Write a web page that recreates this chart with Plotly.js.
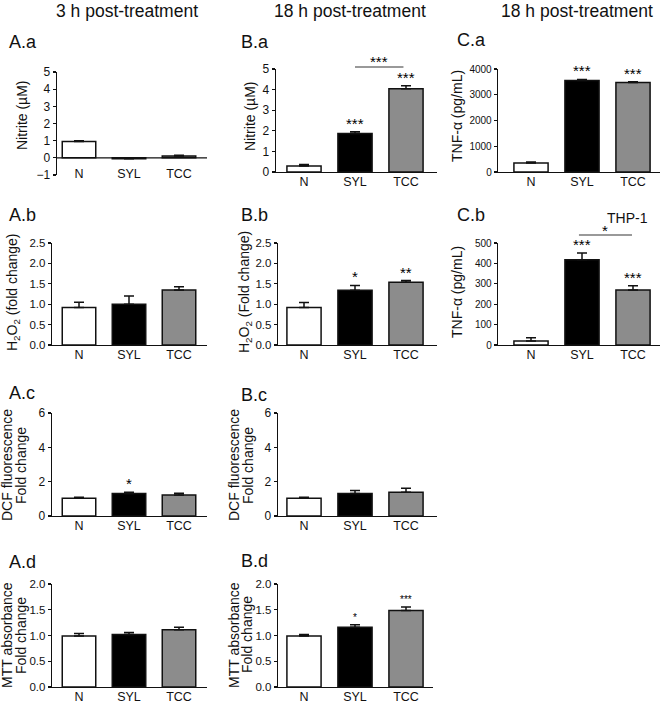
<!DOCTYPE html>
<html><head><meta charset="utf-8">
<script src="https://cdn.plot.ly/plotly-3.0.1.min.js"></script>
<style>html,body{margin:0;padding:0;background:#fff}#chart{width:660px;height:703px}</style>
</head><body><div id="chart"></div>
<script>
// ---------- DATA ----------
const categories = ['N', 'SYL', 'TCC'];
const columnHeaders = ['3 h post-treatment', '18 h post-treatment', '18 h post-treatment'];

// A.a  Nitrite, 3 h
const nitrite3hMean = [0.95, -0.05, 0.10];
const nitrite3hErr  = [0.05, 0.03, 0.05];
const nitrite3hStars = ['', '', ''];
// B.a  Nitrite, 18 h
const nitrite18hMean = [0.29, 1.87, 4.04];
const nitrite18hErr  = [0.08, 0.08, 0.15];
const nitrite18hStars = ['', '***', '***'];
// C.a  TNF-alpha, 18 h
const tnf18hMean = [350, 3555, 3480];
const tnf18hErr  = [40, 40, 25];
const tnf18hStars = ['', '***', '***'];
// A.b  H2O2, 3 h
const h2o23hMean = [0.92, 1.00, 1.35];
const h2o23hErr  = [0.13, 0.20, 0.08];
const h2o23hStars = ['', '', ''];
// B.b  H2O2, 18 h
const h2o218hMean = [0.92, 1.34, 1.54];
const h2o218hErr  = [0.12, 0.12, 0.04];
const h2o218hStars = ['', '*', '**'];
// C.b  TNF-alpha, THP-1
const tnfThp1Mean = [20, 418, 270];
const tnfThp1Err  = [16, 33, 20];
const tnfThp1Stars = ['', '***', '***'];
// A.c  DCF fluorescence, 3 h
const dcf3hMean = [1.03, 1.31, 1.23];
const dcf3hErr  = [0.06, 0.07, 0.10];
const dcf3hStars = ['', '*', ''];
// B.c  DCF fluorescence, 18 h
const dcf18hMean = [1.03, 1.31, 1.38];
const dcf18hErr  = [0.06, 0.17, 0.24];
const dcf18hStars = ['', '', ''];
// A.d  MTT absorbance, 3 h
const mtt3hMean = [0.99, 1.02, 1.11];
const mtt3hErr  = [0.05, 0.04, 0.05];
const mtt3hStars = ['', '', ''];
// B.d  MTT absorbance, 18 h
const mtt18hMean = [0.99, 1.16, 1.485];
const mtt18hErr  = [0.03, 0.05, 0.07];
const mtt18hStars = ['', '*', '***'];

// ---------- STYLE / LAYOUT ----------
const barColors = ['#ffffff', '#000000', '#8c8c8c'];
const W = 660, H = 703;
const FONT = 'Arial, "Liberation Sans", Helvetica, sans-serif';
const INK = '#111111';
const px = x => x / W;
const py = y => 1 - y / H;

const panels = [
  {label:'A.a', mean:nitrite3hMean, err:nitrite3hErr, stars:nitrite3hStars, title:['Nitrite (µM)'], yr:[-1,5], dtick:1, fmt:'', box:[57,207,72,175], c0:79, sp:50, lab:[7,42], zeroAxis:true, tfs:12, tx:[22], ty:115},
  {label:'B.a', mean:nitrite18hMean, err:nitrite18hErr, stars:nitrite18hStars, title:['Nitrite (µM)'], yr:[0,5], dtick:1, fmt:'', box:[276,437,69,172], c0:304, sp:51, lab:[239,42], tfs:12, tx:[250], ty:116},
  {label:'C.a', mean:tnf18hMean, err:tnf18hErr, stars:tnf18hStars, title:['TNF-α (pg/mL)'], yr:[0,4000], dtick:1000, fmt:'', box:[498,660,69,172], c0:531, sp:51, lab:[455,40], tfs:10, tx:[457], ty:116},
  {label:'A.b', mean:h2o23hMean, err:h2o23hErr, stars:h2o23hStars, title:['H<sub>2</sub>O<sub>2</sub> (fold change)'], yr:[0,2.5], dtick:0.5, fmt:'.1f', box:[52,207,243,345], c0:79, sp:50, lab:[7,215], tfs:11.5, tx:[13], ty:292},
  {label:'B.b', mean:h2o218hMean, err:h2o218hErr, stars:h2o218hStars, title:['H<sub>2</sub>O<sub>2</sub> (Fold change)'], yr:[0,2.5], dtick:0.5, fmt:'.1f', box:[278,437,243,345], c0:304, sp:51, lab:[239,215], tfs:11.5, tx:[245], ty:292},
  {label:'C.b', mean:tnfThp1Mean, err:tnfThp1Err, stars:tnfThp1Stars, title:['TNF-α (pg/mL)'], yr:[0,500], dtick:100, fmt:'', box:[498,660,243,345], c0:531, sp:51, lab:[455,215], tfs:10, tx:[457], ty:292},
  {label:'A.c', mean:dcf3hMean, err:dcf3hErr, stars:dcf3hStars, title:['DCF fluorescence', 'Fold change'], yr:[0,6], dtick:2, fmt:'', box:[52,207,413,516], c0:79, sp:50, lab:[7,393], tfs:12, tx:[7,21], ty:465},
  {label:'B.c', mean:dcf18hMean, err:dcf18hErr, stars:dcf18hStars, title:['DCF fluorescence', 'Fold change'], yr:[0,6], dtick:2, fmt:'', box:[278,437,413,516], c0:304, sp:51, lab:[239,395], tfs:12, tx:[234,248], ty:465},
  {label:'A.d', mean:mtt3hMean, err:mtt3hErr, stars:mtt3hStars, title:['MTT absorbance', 'Fold change'], yr:[0,2], dtick:0.5, fmt:'.1f', box:[52,207,584,687], c0:79, sp:50, lab:[7,562], tfs:11.5, tx:[7,21], ty:635},
  {label:'B.d', mean:mtt18hMean, err:mtt18hErr, stars:mtt18hStars, title:['MTT absorbance', 'Fold change'], yr:[0,2], dtick:0.5, fmt:'.1f', box:[278,433,584,687], c0:304, sp:51, lab:[239,561], tfs:11.5, tx:[234,247], ty:635, starSize:10}
];

const data = [];
const layout = {
  width: W, height: H,
  margin: {l:0, r:0, t:0, b:0},
  paper_bgcolor: '#ffffff', plot_bgcolor: '#ffffff',
  showlegend: false,
  font: {family: FONT, color: INK},
  annotations: [], shapes: []
};

panels.forEach((p, i) => {
  const n = i + 1;
  const xa = n === 1 ? 'xaxis' : 'xaxis' + n;
  const ya = n === 1 ? 'yaxis' : 'yaxis' + n;
  const xr = n === 1 ? 'x' : 'x' + n;
  const yr = n === 1 ? 'y' : 'y' + n;
  const [L, R, T, B] = p.box;

  data.push({
    type: 'bar', x: categories, y: p.mean,
    xaxis: xr, yaxis: yr, width: 0.67,
    marker: {color: barColors, line: {color: INK, width: 1.5}},
    error_y: {type: 'data', symmetric: false, array: p.err, arrayminus: p.err.map(() => 0),
              color: INK, thickness: 1.5, width: 5},
    hoverinfo: 'x+y'
  });

  layout[xa] = {
    domain: [px(L), px(R)], anchor: p.zeroAxis ? 'free' : yr,
    type: 'category',
    range: [(L - p.c0) / p.sp, (R - p.c0) / p.sp],
    showline: !p.zeroAxis, linecolor: INK, linewidth: 1.3,
    ticks: '', ticklabelstandoff: -2,
    showgrid: false, zeroline: false, fixedrange: true,
    tickfont: {family: FONT, size: 12.5, color: INK}
  };
  if (p.zeroAxis) layout[xa].position = py(166);

  layout[ya] = {
    domain: [py(B), py(T)], anchor: xr,
    range: p.yr, dtick: p.dtick, tick0: 0, tickformat: p.fmt,
    showline: true, linecolor: INK, linewidth: 1.3,
    ticks: 'outside', ticklen: 3, tickcolor: INK, tickwidth: 1.2,
    showgrid: false, zeroline: false, fixedrange: true,
    tickfont: {family: FONT, size: p.tfs, color: INK}
  };

  if (p.zeroAxis) {
    layout.shapes.push({type: 'line', xref: xr + ' domain', yref: yr,
      x0: 0, x1: 1, y0: 0, y1: 0, line: {color: INK, width: 1.3}});
  }

  // y-axis title (rotated), one annotation per line for tight line spacing
  p.title.forEach((t, j) => {
    layout.annotations.push({text: t, xref: 'paper', yref: 'paper',
      x: px(p.tx[j]), y: py(p.ty), xanchor: 'center', yanchor: 'middle',
      textangle: -90, showarrow: false,
      font: {family: FONT, size: 14, color: INK}});
  });

  // panel label
  layout.annotations.push({text: p.label, xref: 'paper', yref: 'paper',
    x: px(p.lab[0]), y: py(p.lab[1]), xanchor: 'left', yanchor: 'middle',
    showarrow: false, font: {family: FONT, size: 18, color: INK}});

  // significance stars above bars
  p.stars.forEach((s, k) => {
    if (!s) return;
    layout.annotations.push({text: s, xref: xr, yref: yr,
      x: categories[k], y: p.mean[k] + p.err[k], yanchor: 'bottom', yshift: p.starSize ? 0 : -2,
      showarrow: false, font: {family: FONT, size: p.starSize || 15, color: '#000000'}});
  });
});

// column headers
[127, 350, 577].forEach((cx, k) => {
  layout.annotations.push({text: columnHeaders[k], xref: 'paper', yref: 'paper',
    x: px(cx), y: py(11), xanchor: 'center', yanchor: 'middle',
    showarrow: false, font: {family: FONT, size: 17.5, color: INK}});
});

// comparison bracket B.a (SYL vs TCC)
layout.shapes.push({type: 'line', xref: 'x2', yref: 'y2 domain',
  x0: 1, x1: 1.95, y0: 1.02, y1: 1.02, line: {color: '#777', width: 1.5}});
layout.annotations.push({text: '***', xref: 'x2', yref: 'y2 domain', x: 1.47, y: 1.075,
  yanchor: 'middle', showarrow: false, font: {family: FONT, size: 15, color: '#000000'}});

// comparison bracket C.b (SYL vs TCC)
layout.shapes.push({type: 'line', xref: 'x6', yref: 'y6 domain',
  x0: 0.94, x1: 1.98, y0: 1.078, y1: 1.078, line: {color: '#777', width: 1.5}});
layout.annotations.push({text: '*', xref: 'x6', yref: 'y6 domain', x: 1.45, y: 1.12,
  yanchor: 'middle', showarrow: false, font: {family: FONT, size: 15, color: '#000000'}});
layout.annotations.push({text: 'THP-1', xref: 'paper', yref: 'paper', x: px(627), y: py(218),
  xanchor: 'center', yanchor: 'middle', showarrow: false, font: {family: FONT, size: 14, color: INK}});

Plotly.newPlot('chart', data, layout, {staticPlot: true, displayModeBar: false});
</script>
</body></html>
